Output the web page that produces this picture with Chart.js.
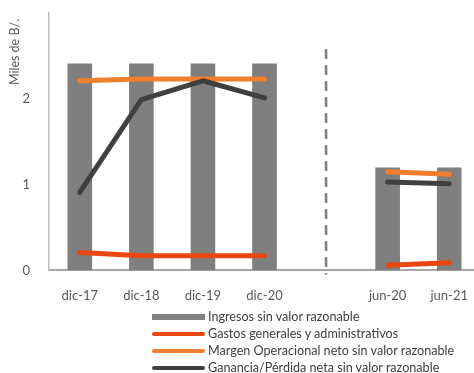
<!DOCTYPE html>
<html>
<head>
<meta charset="utf-8">
<script src="https://cdn.jsdelivr.net/npm/chart.js@4/dist/chart.umd.min.js"></script>
<style>
  html, body { margin: 0; padding: 0; background: #fff; width: 474px; height: 373px; overflow: hidden; }
  #wrap { position: absolute; left: 0; top: 0; width: 480px; height: 314px; }
  #legend { position: absolute; left: 152px; top: 308px; font-family: Lato, sans-serif; font-size: 12.6px; color: #404040; }
  .row { height: 17px; display: flex; align-items: center; white-space: nowrap; }
  .sw { width: 53px; margin-right: 3px; }
</style>
</head>
<body>
<div id="wrap"><canvas id="c"></canvas></div>
<div id="legend"></div>
<script>
// Periods (the empty slot separates annual figures from half-year figures)
const categories = ['dic-17', 'dic-18', 'dic-19', 'dic-20', '', 'jun-20', 'jun-21'];
const ingresos = [2.41, 2.41, 2.41, 2.41, null, 1.20, 1.20];
const gastos   = [0.21, 0.17, 0.17, 0.17, null, 0.06, 0.09];
const margen   = [2.21, 2.23, 2.23, 2.23, null, 1.15, 1.12];
const ganancia = [0.91, 1.99, 2.21, 2.01, null, 1.03, 1.01];
const yTicks = [0, 1, 2];
const yMax = 3;
const yTitle = 'Miles de B/.';

const FONT = 'Lato, sans-serif';
const TXT = '#595959';

// Dashed separator in the empty slot between the two groups
const separator = {
  id: 'separator',
  beforeDatasetsDraw(chart) {
    const x = chart.scales.x.getPixelForValue(4);
    const y = chart.scales.y;
    const ctx = chart.ctx;
    ctx.save();
    ctx.strokeStyle = '#7f7f7f';
    ctx.lineWidth = 2.5;
    ctx.setLineDash([10, 6]);
    ctx.beginPath();
    ctx.moveTo(x, y.getPixelForValue(2.58));
    ctx.lineTo(x, y.getPixelForValue(0) + 4);
    ctx.stroke();
    ctx.restore();
  }
};

// Vertical axis title, placed near the top of the axis
const axisTitle = {
  id: 'axisTitle',
  afterDraw(chart) {
    const ctx = chart.ctx;
    ctx.save();
    ctx.translate(15, chart.chartArea.top + 39);
    ctx.rotate(-Math.PI / 2);
    ctx.font = '12.5px ' + FONT;
    ctx.fillStyle = TXT;
    ctx.textAlign = 'center';
    ctx.textBaseline = 'middle';
    ctx.fillText(yTitle, 0, 0);
    ctx.restore();
  }
};

const lineDs = (label, data, color, order) => ({
  type: 'line', label, data, order,
  borderColor: color, backgroundColor: color,
  borderWidth: 5, borderCapStyle: 'round', borderJoinStyle: 'round',
  pointRadius: 0, pointHoverRadius: 0, tension: 0, spanGaps: false, fill: false
});

const chart = new Chart(document.getElementById('c'), {
  type: 'bar',
  data: {
    labels: categories,
    datasets: [
      { type: 'bar', label: 'Ingresos sin valor razonable', data: ingresos, order: 10,
        backgroundColor: '#7f7f7f', barPercentage: 0.4, categoryPercentage: 1.0 },
      lineDs('Gastos generales y administrativos', gastos, '#e9470f', 3),
      lineDs('Margen Operacional neto sin valor razonable', margen, '#f07f2e', 2),
      lineDs('Ganancia/Pérdida neta sin valor razonable', ganancia, '#404040', 1)
    ]
  },
  options: {
    responsive: true,
    maintainAspectRatio: false,
    animation: false,
    layout: { padding: { top: 13, right: 0, bottom: 0, left: 0 } },
    plugins: { legend: { display: false }, tooltip: { enabled: false } },
    scales: {
      x: {
        grid: { display: false },
        border: { display: true, color: '#a6a6a6', width: 2 },
        ticks: { color: TXT, font: { family: FONT, size: 13 }, padding: 10, maxRotation: 0 }
      },
      y: {
        min: 0, max: yMax,
        grid: { display: false },
        border: { display: true, color: '#bfbfbf', width: 1.5 },
        afterBuildTicks: s => { s.ticks = yTicks.map(v => ({ value: v })); },
        afterFit: s => { s.width = 49; s.paddingTop = 0; s.paddingBottom = 0; },
        ticks: { color: TXT, font: { family: FONT, size: 13 }, padding: 11 }
      }
    }
  },
  plugins: [separator, axisTitle]
});

// Legend, one entry per row, built from the datasets
const legend = document.getElementById('legend');
chart.data.datasets.forEach(ds => {
  const row = document.createElement('div');
  row.className = 'row';
  const sw = document.createElement('span');
  sw.className = 'sw';
  if (ds.type === 'bar') {
    sw.style.height = '6px';
    sw.style.background = ds.backgroundColor;
  } else {
    sw.style.height = '4px';
    sw.style.borderRadius = '2px';
    sw.style.background = ds.borderColor;
  }
  const t = document.createElement('span');
  t.textContent = ds.label;
  row.appendChild(sw);
  row.appendChild(t);
  legend.appendChild(row);
});
</script>
</body>
</html>
